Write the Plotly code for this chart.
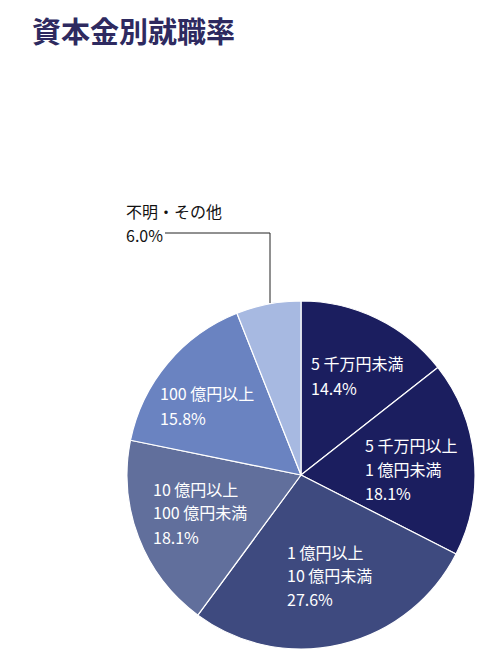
import plotly.graph_objects as go

title = "資本金別就職率"
categories = ["5千万円未満", "5千万円以上1億円未満", "1億円以上10億円未満",
              "10億円以上100億円未満", "100億円以上", "不明・その他"]
values = [14.4, 18.1, 27.6, 18.1, 15.8, 6.0]
label_lines = [
    ["5 千万円未満"],
    ["5 千万円以上", "1 億円未満"],
    ["1 億円以上", "10 億円未満"],
    ["10 億円以上", "100 億円未満"],
    ["100 億円以上"],
    ["不明・その他"],
]
colors = ["#1b1e5f", "#1b1e5f", "#3e4a7f", "#616f9c", "#6a83c1", "#a7b9e1"]

W, H = 500, 660
FONT = "Noto Sans CJK JP"

fig = go.Figure()
fig.add_trace(go.Pie(
    labels=categories, values=values, sort=False, direction="clockwise", rotation=0,
    marker=dict(colors=colors, line=dict(color="white", width=1.2)),
    textinfo="none", hoverinfo="label+percent", showlegend=False,
    domain=dict(x=[127 / W, 475 / W], y=[1 - 649 / H, 1 - 301 / H]),
))

# label anchor positions (px: left x, name-line centre ys, percent-line centre y)
label_pos = [
    (309, [363], 388),
    (363, [445, 468.5], 492.5),
    (285, [551.5, 575], 599),
    (151, [488.5, 512], 537),
    (158, [393], 418),
    (124, [211], 235),
]
ann = []
for i, (x, ys, yp) in enumerate(label_pos):
    col = "white" if i < 5 else "#111111"
    for line, y in zip(label_lines[i], ys):
        ann.append(dict(x=x / W, y=1 - y / H, xref="paper", yref="paper", text=line,
                        showarrow=False, xanchor="left", yanchor="middle",
                        font=dict(family=FONT, size=16, color=col)))
    ann.append(dict(x=x / W, y=1 - yp / H, xref="paper", yref="paper",
                    text=f"{values[i]:.1f}%", showarrow=False, xanchor="left",
                    yanchor="middle", font=dict(family=FONT, size=16, color=col)))

ann.append(dict(x=30 / W, y=1 - 30 / H, xref="paper", yref="paper", text=f"<b>{title}</b>",
                showarrow=False, xanchor="left", yanchor="middle",
                font=dict(family=FONT, size=29, color="#2e2a60")))

shapes = [
    dict(type="line", xref="paper", yref="paper", x0=165 / W, y0=1 - 233 / H,
         x1=270 / W, y1=1 - 233 / H, line=dict(color="#222222", width=1)),
    dict(type="line", xref="paper", yref="paper", x0=270 / W, y0=1 - 233 / H,
         x1=270 / W, y1=1 - 303 / H, line=dict(color="#222222", width=1)),
]

fig.update_layout(width=W, height=H, margin=dict(l=0, r=0, t=0, b=0),
                  paper_bgcolor="white", plot_bgcolor="white",
                  annotations=ann, shapes=shapes, font=dict(family=FONT))
fig.write_html("out.html")
